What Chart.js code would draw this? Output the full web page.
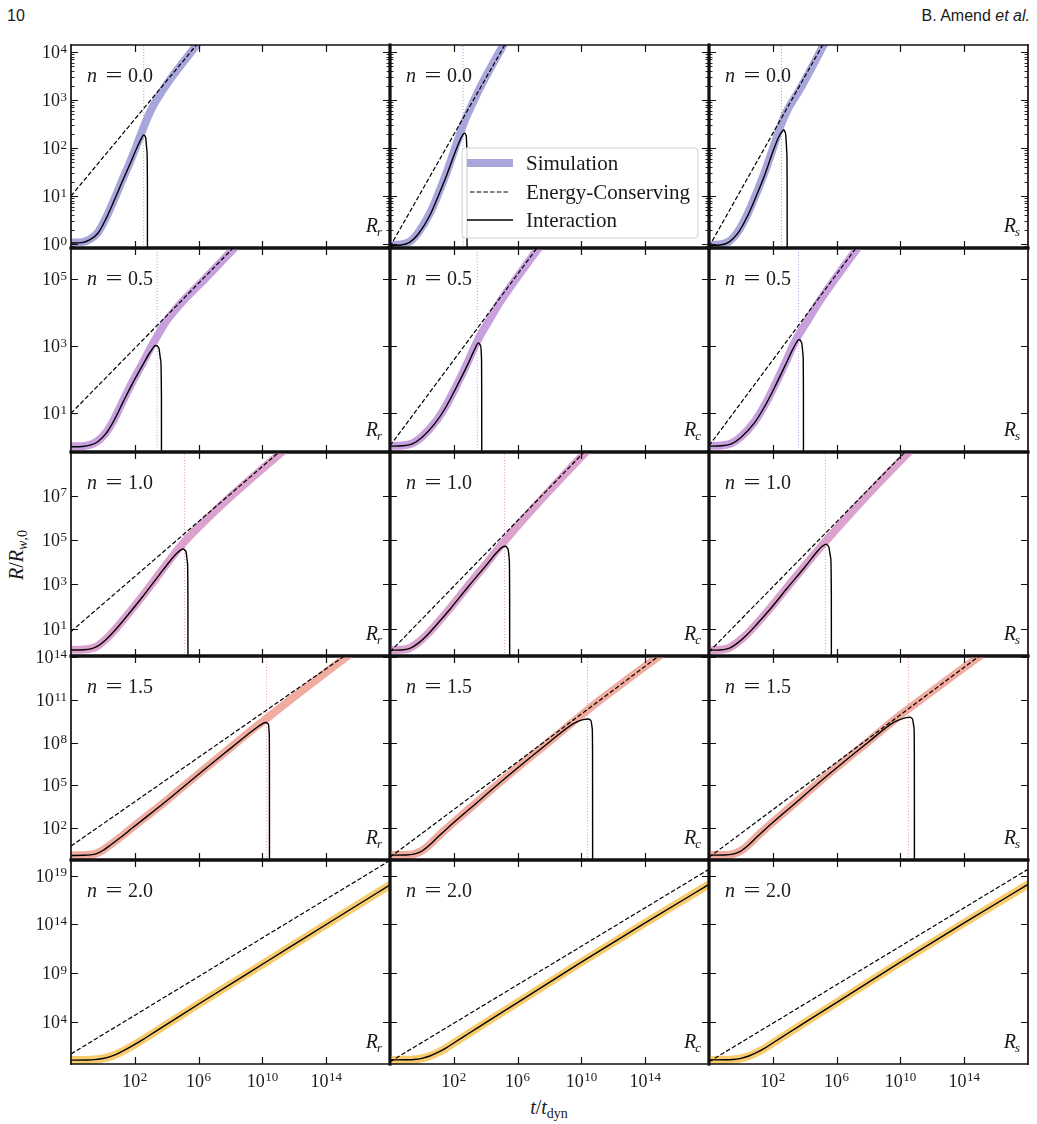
<!DOCTYPE html>
<html>
<head>
<meta charset="utf-8">
<script src="https://cdn.jsdelivr.net/npm/chart.js@4.4.1/dist/chart.umd.min.js"></script>
<style>
  body { margin: 0; background: #fff; width: 1037px; height: 1124px; position: relative; overflow: hidden; font-family: "Liberation Serif", serif; color: #1a1a1a; }
  canvas { position: absolute; }
  .hdr { position: absolute; top: 8px; line-height: 16px; font-family: "Liberation Sans", Arial, sans-serif; font-size: 16px; color: #1a1a1a; }
  .lab { position: absolute; font-size: 20px; white-space: nowrap; line-height: 22px; }
  .lab sub { font-size: 14px; vertical-align: -4px; line-height: 0; }
</style>
</head>
<body>
<div class="hdr" style="left:7px">10</div>
<div class="hdr" style="right:7px">B. Amend <i>et al.</i></div>
<div class="lab" style="left:16px;top:555px;transform:translate(-50%,-50%) rotate(-90deg)"><i>R</i>/<i>R</i><sub><i>w</i>,0</sub></div>
<div class="lab" style="left:549px;top:1107px;transform:translate(-50%,-50%)"><i>t</i>/<i>t</i><sub>dyn</sub></div>
<script>
// all curve points are [log10(t/t_dyn), log10(R/R_w,0)], one list per column (R_r, R_c, R_s)
const nLabels = ['0.0', '0.5', '1.0', '1.5', '2.0'];
const radiusSubs = ['r', 'c', 's'];
const xRange = [-2, 18];
const xTickExps = [2, 6, 10, 14];
const yRanges = [[-0.083, 4.146], [-0.13, 5.93], [-0.22, 8.97], [-0.25, 14.1], [-0.3, 20.6]];
const yTickExps = [[0, 1, 2, 3, 4], [1, 3, 5], [1, 3, 5, 7], [2, 5, 8, 11, 14], [4, 9, 14, 19]];
const peakT = [[2.56, 2.58, 2.54], [3.4, 3.47, 3.61], [5.125, 5.19, 5.3], [10.27, 10.375, 10.5], [null, null, null]];

const simColors = ['rgb(168,166,218)', 'rgb(200,160,222)', 'rgb(220,162,206)', 'rgb(241,172,160)', 'rgb(248,204,110)'];
const dotColors = ['rgb(160,150,228)', 'rgb(190,145,225)', 'rgb(225,140,195)', 'rgb(240,150,138)', 'rgb(240,190,80)'];

// n = 0.0
const sim_n00 = [
  [[-2,0.03],[-1.3,0.04],[-0.8,0.1],[-0.3,0.25],[0.2,0.55],[0.7,0.92],[1.2,1.32],[1.69,1.7],[2.1,2.04],[2.56,2.44],[2.94,2.74],[3.36,3.0],[4.0,3.33],[4.6,3.6],[5.3,3.9],[6.0,4.2],[6.6,4.45]],
  [[-2,-0.02],[-1.3,-0.01],[-0.75,0.05],[-0.2,0.25],[0.5,0.64],[1.0,1.02],[1.54,1.48],[2.0,1.92],[2.375,2.28],[2.6,2.5],[2.94,2.76],[3.56,3.2],[4.19,3.6],[5.06,4.12],[5.6,4.45]],
  [[-2,-0.02],[-1.3,-0.01],[-0.75,0.05],[-0.2,0.25],[0.44,0.64],[1.0,1.08],[1.54,1.54],[2.0,1.98],[2.54,2.51],[2.9,2.78],[3.69,3.22],[4.4,3.65],[5.19,4.15],[5.6,4.4]]
];
const int_n00 = [
  [[-2,0.02],[-1.3,0.03],[-0.8,0.09],[-0.3,0.23],[0.2,0.53],[0.7,0.9],[1.2,1.29],[1.69,1.66],[2.1,1.98],[2.4,2.19],[2.56,2.27],[2.68,2.22],[2.76,1.95],[2.79,1.3],[2.795,-3]],
  [[-2,-0.03],[-1.3,-0.02],[-0.75,0.04],[-0.2,0.22],[0.5,0.6],[1.0,0.98],[1.54,1.42],[2.0,1.84],[2.375,2.15],[2.55,2.27],[2.69,2.31],[2.78,2.25],[2.82,1.9],[2.83,1.0],[2.835,-3]],
  [[-2,-0.03],[-1.3,-0.02],[-0.75,0.04],[-0.2,0.22],[0.44,0.6],[1.0,1.03],[1.54,1.48],[2.0,1.92],[2.4,2.25],[2.6,2.35],[2.69,2.375],[2.8,2.3],[2.88,1.9],[2.9,1.0],[2.905,-3]]
];
const ec_n00 = [[[-2,1.0],[6.5,4.4]], [[-2,-0.056],[6,4.616]], [[-2,-0.056],[6,4.664]]];

// n = 0.5
const sim_n05 = [
  [[-2,0.015],[-1.3,0.02],[-0.8,0.06],[-0.3,0.18],[0.2,0.43],[0.7,0.82],[1.27,1.38],[1.9,1.98],[2.52,2.52],[3.0,2.96],[3.5,3.38],[4.0,3.77],[4.6,4.12],[5.23,4.45],[6.48,5.05],[8.08,5.85],[8.8,6.2]],
  [[-2,0.03],[-1.2,0.04],[-0.6,0.1],[0,0.3],[0.81,0.72],[1.5,1.22],[2.11,1.77],[2.9,2.55],[3.3,2.98],[3.7,3.36],[4.2,3.76],[4.8,4.25],[5.5,4.74],[7.19,5.85],[7.8,6.24]],
  [[-2,0.03],[-1.2,0.04],[-0.6,0.1],[0,0.3],[0.81,0.72],[1.5,1.25],[2.11,1.82],[2.9,2.62],[3.35,3.1],[3.7,3.4],[4.2,3.78],[4.8,4.25],[5.5,4.74],[7.19,5.85],[7.8,6.24]]
];
const int_n05 = [
  [[-2,0.0],[-1.3,0.01],[-0.8,0.05],[-0.3,0.16],[0.2,0.4],[0.7,0.79],[1.27,1.34],[1.9,1.93],[2.52,2.46],[3.0,2.85],[3.31,3.02],[3.5,2.96],[3.62,2.6],[3.67,1.5],[3.675,-3]],
  [[-2,0.02],[-1.2,0.03],[-0.6,0.09],[0,0.28],[0.81,0.69],[1.5,1.18],[2.11,1.73],[2.9,2.48],[3.3,2.9],[3.55,3.1],[3.68,3.02],[3.74,2.6],[3.75,1.5],[3.755,-3]],
  [[-2,0.02],[-1.2,0.03],[-0.6,0.09],[0,0.28],[0.81,0.69],[1.5,1.21],[2.11,1.77],[2.9,2.55],[3.3,2.95],[3.66,3.2],[3.8,3.12],[3.9,2.7],[3.92,1.5],[3.925,-3]]
];
const ec_n05 = [[[-2,1.0],[9,6.335]], [[-2,0.03],[9,7.07]], [[-2,0.03],[9,7.07]]];

// n = 1.0
const sim_n10 = [
  [[-2,0.06],[-1.2,0.07],[-0.7,0.12],[-0.3,0.25],[0.2,0.55],[0.8,1.0],[1.5,1.6],[2.5,2.5],[3.5,3.45],[4.4,4.3],[5.02,4.85],[5.6,5.3],[6.5,5.95],[8.1,7.02],[11.06,8.87],[11.6,9.2]],
  [[-2,0.05],[-1.3,0.06],[-0.75,0.14],[-0.2,0.4],[0.4,0.8],[1.0,1.28],[1.8,1.96],[2.9,2.95],[4.0,3.9],[4.72,4.55],[5.3,5.05],[6,5.64],[7,6.45],[8,7.23],[10.19,8.9],[10.8,9.35]],
  [[-2,0.05],[-1.3,0.06],[-0.75,0.14],[-0.2,0.4],[0.4,0.78],[1.0,1.24],[1.8,1.9],[2.9,2.88],[4.0,3.84],[4.8,4.52],[5.4,5.02],[6,5.51],[7,6.31],[8,7.09],[10.3,8.8],[10.9,9.24]]
];
const int_n10 = [
  [[-2,0.05],[-1.2,0.06],[-0.7,0.11],[-0.3,0.23],[0.2,0.52],[0.8,0.97],[1.5,1.57],[2.5,2.46],[3.5,3.4],[4.2,4.05],[4.7,4.45],[5.02,4.6],[5.2,4.5],[5.3,4.0],[5.33,2.5],[5.335,-3]],
  [[-2,0.04],[-1.3,0.05],[-0.75,0.12],[-0.2,0.37],[0.4,0.77],[1.0,1.25],[1.8,1.92],[2.9,2.9],[4.0,3.84],[4.72,4.46],[5.0,4.66],[5.24,4.72],[5.4,4.6],[5.48,4.1],[5.5,2.5],[5.505,-3]],
  [[-2,0.04],[-1.3,0.05],[-0.75,0.12],[-0.2,0.37],[0.4,0.75],[1.0,1.21],[1.8,1.86],[2.9,2.83],[4.0,3.78],[4.8,4.5],[5.1,4.72],[5.35,4.82],[5.5,4.72],[5.63,4.2],[5.67,2.5],[5.675,-3]]
];
const ec_n10 = [[[-2,0.88],[12,9.56]], [[-2,-0.04],[12,10.32]], [[-2,-0.04],[12,10.22]]];

// n = 1.5
const sim_n15 = [
  [[-2,0.08],[-1.2,0.09],[-0.8,0.12],[-0.4,0.22],[0,0.45],[0.5,0.85],[1.0,1.27],[1.9,2.08],[4,3.95],[6.06,5.87],[8,7.66],[9.8,9.3],[10.3,9.74],[12.3,11.5],[15.0,13.82],[15.8,14.5]],
  [[-2,0.1],[-1.0,0.11],[-0.5,0.17],[0,0.4],[0.5,0.85],[1.0,1.4],[1.6,2.02],[3,3.38],[5.5,5.8],[8,8.1],[9.93,9.88],[11,10.85],[13,12.55],[14.9,14.12],[15.5,14.6]],
  [[-2,0.1],[-1.0,0.11],[-0.5,0.17],[0,0.4],[0.5,0.85],[1.0,1.4],[1.6,2.02],[3,3.38],[5.5,5.8],[8,8.1],[10.0,9.95],[11,10.8],[13,12.47],[15.0,14.12],[15.6,14.6]]
];
const int_n15 = [
  [[-2,0.07],[-1.2,0.08],[-0.8,0.11],[-0.4,0.2],[0,0.42],[0.5,0.82],[1.0,1.24],[1.9,2.05],[4,3.92],[6.06,5.84],[8,7.6],[9.5,8.95],[10.0,9.33],[10.23,9.42],[10.38,9.3],[10.43,8.6],[10.44,7],[10.445,-3]],
  [[-2,0.09],[-1.0,0.1],[-0.5,0.16],[0,0.38],[0.5,0.82],[1.0,1.37],[1.6,1.99],[3,3.35],[5.5,5.76],[8,8.05],[9.5,9.35],[10.1,9.62],[10.44,9.67],[10.6,9.55],[10.68,9.0],[10.7,7],[10.705,-3]],
  [[-2,0.09],[-1.0,0.1],[-0.5,0.16],[0,0.38],[0.5,0.82],[1.0,1.37],[1.6,1.99],[3,3.35],[5.5,5.76],[8,8.05],[9.6,9.45],[10.3,9.75],[10.6,9.8],[10.75,9.68],[10.85,9.1],[10.875,7],[10.88,-3]]
];
const ec_n15 = [[[-2,0.73],[17,15.55]], [[-2,-0.06],[17,15.9]], [[-2,-0.06],[17,15.81]]];

// n = 2.0
const sim_n20 = [
  [[-2,0.1],[-1,0.11],[-0.5,0.15],[0,0.26],[0.5,0.48],[1.0,0.82],[1.5,1.24],[2.0,1.7],[2.5,2.2],[3,2.72],[4,3.76],[6.06,5.9],[10.23,10.15],[14.4,14.4],[18.5,18.55]],
  [[-2,0.12],[-1,0.13],[-0.5,0.16],[0,0.28],[0.5,0.52],[1.0,0.88],[1.5,1.32],[2.0,1.85],[2.5,2.38],[3,2.9],[4,3.93],[9.875,10.0],[14,14.15],[18.5,18.6]],
  [[-2,0.12],[-1,0.13],[-0.5,0.16],[0,0.28],[0.5,0.52],[1.0,0.88],[1.5,1.32],[2.0,1.85],[2.5,2.38],[3,2.9],[4,3.93],[9.875,10.0],[14,14.15],[18.5,18.6]]
];
const int_n20 = [
  [[-2,0.1],[-1,0.11],[-0.5,0.15],[0,0.26],[0.5,0.48],[1.0,0.82],[1.5,1.24],[2.0,1.7],[2.5,2.2],[3,2.72],[4,3.76],[6.06,5.9],[10.23,10.15],[14.4,14.4],[18.5,18.55]],
  [[-2,0.12],[-1,0.13],[-0.5,0.16],[0,0.28],[0.5,0.52],[1.0,0.88],[1.5,1.32],[2.0,1.85],[2.5,2.38],[3,2.9],[4,3.93],[9.875,10.0],[14,14.15],[18.5,18.6]],
  [[-2,0.12],[-1,0.13],[-0.5,0.16],[0,0.28],[0.5,0.52],[1.0,0.88],[1.5,1.32],[2.0,1.85],[2.5,2.38],[3,2.9],[4,3.93],[9.875,10.0],[14,14.15],[18.5,18.6]]
];
const ec_n20 = [[[-2,0.73],[18,20.55]], [[-2,-0.07],[18,19.65]], [[-2,-0.07],[18,19.65]]];

const simRows = [sim_n00, sim_n05, sim_n10, sim_n15, sim_n20];
const intRows = [int_n00, int_n05, int_n10, int_n15, int_n20];
const ecRows = [ec_n00, ec_n05, ec_n10, ec_n15, ec_n20];

// panel boxes on the page
const colLeft = [71, 390, 709];
const colWidth = 319;
const rowTop = [45, 248, 452, 656, 860];
const rowBottom = [248, 452, 656, 860, 1064];

const SERIF = '"Liberation Serif", serif';
const INK = '#1a1a1a';

function toXY(pairs) {
  return pairs.map(p => ({ x: Math.pow(10, p[0]), y: Math.pow(10, p[1]) }));
}

function drawPow(ctx, e, x, yc, align) {
  ctx.font = '18px ' + SERIF;
  const w1 = ctx.measureText('10').width;
  ctx.font = '13px ' + SERIF;
  const w2 = ctx.measureText(String(e)).width;
  const total = w1 + 0.5 + w2;
  const x0 = align === 'right' ? x - total : x - total / 2;
  ctx.textAlign = 'left';
  ctx.textBaseline = 'alphabetic';
  ctx.font = '18px ' + SERIF;
  ctx.fillText('10', x0, yc + 6);
  ctx.font = '13px ' + SERIF;
  ctx.fillText(String(e), x0 + w1 + 0.5, yc + 0.5);
}

function drawLegend(ctx, a) {
  const lx = a.left + 72, ly = a.top + 103, lw = 236, lh = 90;
  ctx.beginPath();
  ctx.roundRect(lx, ly, lw, lh, 4);
  ctx.fillStyle = 'rgba(255,255,255,0.85)';
  ctx.fill();
  ctx.strokeStyle = '#d0d0d0';
  ctx.lineWidth = 1;
  ctx.stroke();
  const rowsY = [ly + 15, ly + 44, ly + 72];
  ctx.lineCap = 'butt';
  ctx.strokeStyle = simColors[0];
  ctx.lineWidth = 8;
  ctx.beginPath(); ctx.moveTo(lx + 5, rowsY[0]); ctx.lineTo(lx + 51, rowsY[0]); ctx.stroke();
  ctx.strokeStyle = '#000';
  ctx.lineWidth = 1.2;
  ctx.setLineDash([4.5, 2.2]);
  ctx.beginPath(); ctx.moveTo(lx + 8, rowsY[1]); ctx.lineTo(lx + 48, rowsY[1]); ctx.stroke();
  ctx.setLineDash([]);
  ctx.lineWidth = 1.4;
  ctx.beginPath(); ctx.moveTo(lx + 5, rowsY[2]); ctx.lineTo(lx + 51, rowsY[2]); ctx.stroke();
  ctx.fillStyle = INK;
  ctx.font = '21px ' + SERIF;
  ctx.textAlign = 'left';
  ctx.textBaseline = 'alphabetic';
  ['Simulation', 'Energy-Conserving', 'Interaction'].forEach((t, i) => ctx.fillText(t, lx + 64, rowsY[i] + 7));
}

function panelPlugin(r, c) {
  return {
    id: 'panel' + r + c,
    afterDatasetsDraw(chart) {
      const ctx = chart.ctx, a = chart.chartArea;
      const xs = chart.scales.x, ys = chart.scales.y;
      ctx.save();

      if (r === 0 && c === 1) drawLegend(ctx, a);

      ctx.fillStyle = INK;
      ctx.textBaseline = 'alphabetic';
      // n = ... label
      ctx.textAlign = 'left';
      ctx.font = 'italic 20px ' + SERIF;
      ctx.fillText('n', a.left + 16, a.top + 37);
      ctx.font = '20px ' + SERIF;
      ctx.save();
      ctx.translate(a.left + 43, a.top + 37);
      ctx.scale(1.5, 1);
      ctx.textAlign = 'center';
      ctx.fillText('=', 0, 0);
      ctx.restore();
      ctx.textAlign = 'left';
      ctx.fillText(nLabels[r], a.left + 57, a.top + 37);

      // R_r / R_c / R_s label (the legend sits there in the top middle panel)
      if (!(r === 0 && c === 1)) {
        ctx.font = 'italic 13px ' + SERIF;
        const ws = ctx.measureText(radiusSubs[c]).width;
        ctx.font = 'italic 20px ' + SERIF;
        const wr = ctx.measureText('R').width;
        const x0 = a.right - 8 - ws - wr + 1;
        ctx.fillText('R', x0, a.bottom - 16);
        ctx.font = 'italic 13px ' + SERIF;
        ctx.fillText(radiusSubs[c], x0 + wr - 1, a.bottom - 12.5);
      }

      // tick labels
      if (c === 0) {
        yTickExps[r].forEach(e => drawPow(ctx, e, a.left - 4, ys.getPixelForValue(Math.pow(10, e)), 'right'));
      }
      if (r === 4) {
        xTickExps.forEach(e => drawPow(ctx, e, xs.getPixelForValue(Math.pow(10, e)), a.bottom + 16.5, 'center'));
      }

      // inward ticks on all four sides
      ctx.strokeStyle = '#111';
      ctx.lineWidth = 1.2;
      ctx.beginPath();
      yTickExps[r].forEach(e => {
        const py = Math.round(ys.getPixelForValue(Math.pow(10, e))) + 0.5;
        ctx.moveTo(a.left, py); ctx.lineTo(a.left + 7, py);
        ctx.moveTo(a.right, py); ctx.lineTo(a.right - 7, py);
      });
      xTickExps.forEach(e => {
        const px = Math.round(xs.getPixelForValue(Math.pow(10, e))) + 0.5;
        ctx.moveTo(px, a.top); ctx.lineTo(px, a.top + 7);
        ctx.moveTo(px, a.bottom); ctx.lineTo(px, a.bottom - 7);
      });
      ctx.stroke();
      if (r === 0) {
        ctx.lineWidth = 0.9;
        ctx.beginPath();
        for (let k = -1; k <= 4; k++) {
          for (let m = 2; m <= 9; m++) {
            const lv = k + Math.log10(m);
            if (lv < yRanges[r][0] || lv > yRanges[r][1]) continue;
            const py = Math.round(ys.getPixelForValue(m * Math.pow(10, k))) + 0.5;
            ctx.moveTo(a.left, py); ctx.lineTo(a.left + 3.5, py);
            ctx.moveTo(a.right, py); ctx.lineTo(a.right - 3.5, py);
          }
        }
        ctx.stroke();
      }

      // frame, shared edges drawn heavier
      const edge = (x1, y1, x2, y2, inner) => {
        ctx.lineWidth = inner ? 2.8 : 1.7;
        ctx.beginPath(); ctx.moveTo(x1, y1); ctx.lineTo(x2, y2); ctx.stroke();
      };
      ctx.strokeStyle = '#111';
      ctx.lineCap = 'square';
      edge(a.left, a.top, a.right, a.top, r > 0);
      edge(a.left, a.bottom, a.right, a.bottom, r < 4);
      edge(a.left, a.top, a.left, a.bottom, c > 0);
      edge(a.right, a.top, a.right, a.bottom, c < 2);
      ctx.restore();
    }
  };
}

for (let r = 0; r < 5; r++) {
  for (let c = 0; c < 3; c++) {
    const padL = c === 0 ? 71 : 10, padR = 10, padT = 12, padB = r === 4 ? 34 : 10;
    const h = rowBottom[r] - rowTop[r];
    const cv = document.createElement('canvas');
    cv.width = colWidth + padL + padR;
    cv.height = h + padT + padB;
    cv.style.left = (colLeft[c] - padL) + 'px';
    cv.style.top = (rowTop[r] - padT) + 'px';
    document.body.appendChild(cv);

    const yLo = Math.pow(10, yRanges[r][0]), yHi = Math.pow(10, yRanges[r][1]);
    const datasets = [
      {
        label: 'Simulation',
        data: toXY(simRows[r][c]),
        borderColor: simColors[r],
        borderWidth: 8,
        order: 4
      },
      {
        label: 'Energy-Conserving',
        data: toXY(ecRows[r][c]),
        borderColor: '#000',
        borderWidth: 1.2,
        borderDash: [4.5, 2.2],
        order: 2
      },
      {
        label: 'Interaction',
        data: toXY(intRows[r][c]),
        borderColor: '#000',
        borderWidth: 1.4,
        order: 1
      }
    ];
    if (peakT[r][c] !== null) {
      datasets.push({
        label: 'peak',
        data: [{ x: Math.pow(10, peakT[r][c]), y: yLo }, { x: Math.pow(10, peakT[r][c]), y: yHi }],
        borderColor: dotColors[r],
        borderWidth: 1,
        borderDash: [1, 2],
        order: 3
      });
    }
    datasets.forEach(d => {
      d.pointRadius = 0;
      d.fill = false;
      d.clip = 0;
      d.cubicInterpolationMode = 'monotone';
      d.capBezierPoints = false;
      d.borderJoinStyle = 'round';
    });

    new Chart(cv, {
      type: 'line',
      data: { datasets: datasets },
      options: {
        responsive: false,
        animation: false,
        devicePixelRatio: 1,
        events: [],
        layout: { padding: { left: padL, right: padR, top: padT, bottom: padB } },
        plugins: { legend: { display: false }, tooltip: { enabled: false } },
        scales: {
          x: { type: 'logarithmic', min: Math.pow(10, xRange[0]), max: Math.pow(10, xRange[1]), display: false },
          y: { type: 'logarithmic', min: yLo, max: yHi, display: false }
        }
      },
      plugins: [panelPlugin(r, c)]
    });
  }
}
</script>
</body>
</html>
